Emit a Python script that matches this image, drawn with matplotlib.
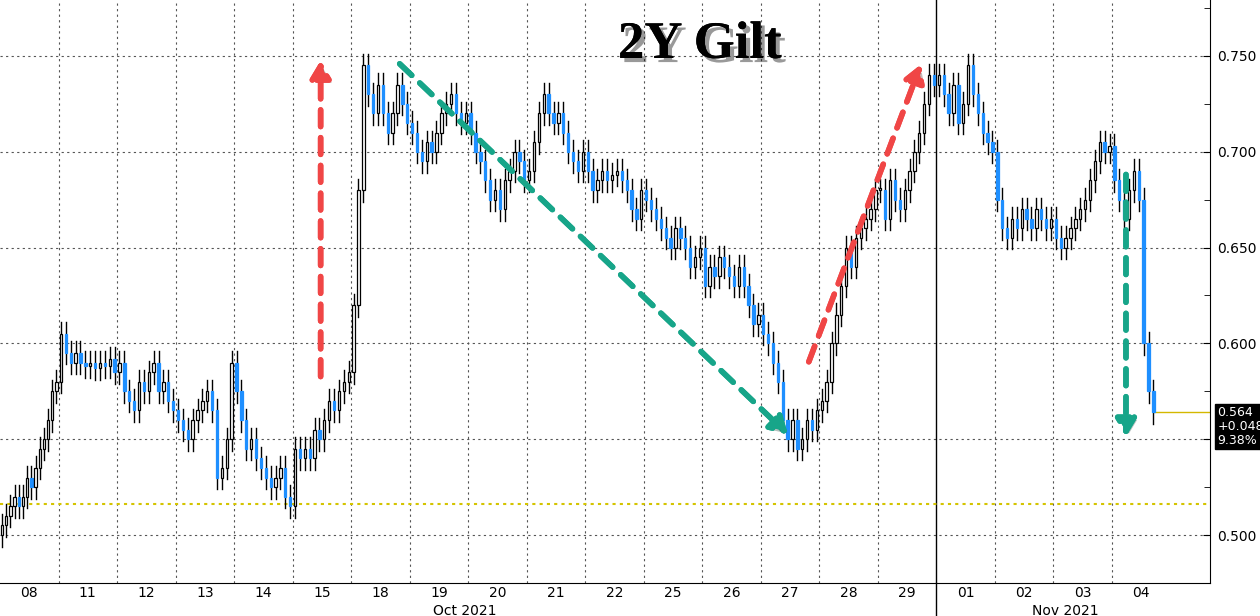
import numpy as np
import matplotlib.pyplot as plt
from matplotlib.patches import FancyArrowPatch
import matplotlib.patheffects as pe

# day labels and 30-min closes
day_labels = ['08', '11', '12', '13', '14', '15', '18', '19', '20', '21',
              '22', '25', '26', '27', '28', '29', '01', '02', '03', '04']
closes = [
    [0.505, 0.510, 0.515, 0.520, 0.515, 0.520, 0.530, 0.525, 0.535, 0.545, 0.550, 0.560, 0.575, 0.580],
    [0.605, 0.595, 0.590, 0.595, 0.590, 0.588, 0.590, 0.587, 0.590, 0.588, 0.592, 0.585],
    [0.590, 0.575, 0.570, 0.565, 0.580, 0.575, 0.585, 0.590, 0.575, 0.580, 0.570, 0.565],
    [0.560, 0.555, 0.550, 0.560, 0.565, 0.570, 0.575, 0.565, 0.530, 0.535, 0.550, 0.590],
    [0.575, 0.560, 0.545, 0.550, 0.540, 0.535, 0.530, 0.525, 0.530, 0.535, 0.520, 0.515],
    [0.545, 0.540, 0.545, 0.540, 0.555, 0.550, 0.560, 0.570, 0.565, 0.575, 0.580, 0.585],
    [0.620, 0.680, 0.745, 0.730, 0.720, 0.735, 0.720, 0.710, 0.720, 0.735, 0.725, 0.715],
    [0.710, 0.700, 0.695, 0.705, 0.700, 0.710, 0.720, 0.725, 0.730, 0.720, 0.715, 0.720],
    [0.710, 0.700, 0.695, 0.685, 0.675, 0.680, 0.670, 0.685, 0.690, 0.700, 0.695, 0.685],
    [0.690, 0.705, 0.720, 0.730, 0.720, 0.715, 0.720, 0.710, 0.700, 0.695, 0.690, 0.700],
    [0.690, 0.680, 0.685, 0.690, 0.685, 0.688, 0.690, 0.685, 0.680, 0.670, 0.665, 0.680],
    [0.675, 0.670, 0.665, 0.660, 0.655, 0.650, 0.660, 0.655, 0.650, 0.640, 0.645, 0.650],
    [0.630, 0.640, 0.635, 0.645, 0.640, 0.635, 0.630, 0.640, 0.630, 0.620, 0.610, 0.615],
    [0.605, 0.600, 0.590, 0.580, 0.560, 0.550, 0.560, 0.545, 0.550, 0.560, 0.555, 0.565],
    [0.570, 0.580, 0.600, 0.615, 0.630, 0.650, 0.640, 0.655, 0.660, 0.665, 0.670, 0.680],
    [0.680, 0.665, 0.685, 0.675, 0.670, 0.680, 0.690, 0.700, 0.710, 0.725, 0.740, 0.735],
    [0.740, 0.730, 0.720, 0.735, 0.715, 0.725, 0.745, 0.730, 0.720, 0.710, 0.705, 0.700],
    [0.675, 0.660, 0.655, 0.665, 0.660, 0.670, 0.665, 0.660, 0.670, 0.665, 0.660, 0.665],
    [0.655, 0.650, 0.655, 0.660, 0.665, 0.670, 0.675, 0.685, 0.695, 0.705, 0.700, 0.703],
    [0.685, 0.675, 0.665, 0.680, 0.690, 0.675, 0.600, 0.575, 0.564],
]
last_price = 0.564
change_txt = '+0.048'
pct_txt = '9.38%'
ref_level = 0.516

BLUE = '#1e8fff'
PX = 58.5  # pixels per day in the reference


def px_x(p):
    return (p - 0.5) / PX


def px_y(p):
    return 0.75 - (p - 56) / 1920


fig = plt.figure(figsize=(12.6, 6.16), dpi=100)
ax = fig.add_axes([0, 33 / 616, 1210 / 1260, 583 / 616])

prev = None
for d, day in enumerate(closes):
    step = 1.0 / max(len(day), 12)
    for k, c in enumerate(day):
        x = d + (k + 0.5) * step
        o = prev if prev is not None else c - 0.005
        lo, hi = min(o, c), max(o, c)
        up = c >= o
        ax.plot([x, x], [lo - 0.006, hi + 0.006], color='black', lw=1, zorder=2)
        if up:
            ax.bar(x, max(hi - lo, 0.001), bottom=lo, width=0.04, color='white',
                   edgecolor='black', lw=0.9, zorder=3)
        else:
            ax.bar(x, max(hi - lo, 0.001), bottom=lo, width=0.04, color=BLUE,
                   edgecolor=BLUE, lw=0.9, zorder=3)
        prev = c
last_x = x

ax.set_xlim(0, px_x(1210))
ax.set_ylim(px_y(583), px_y(0))

# grid
for d in range(1, len(day_labels)):
    if d == 16:
        continue
    ax.axvline(d, color='#555555', ls=(0, (2, 3)), lw=0.8, zorder=0)
for yv in np.arange(0.50, 0.76, 0.05):
    ax.axhline(yv, color='#555555', ls=(0, (2, 3)), lw=0.8, zorder=0)
ax.axvline(16, color='black', lw=1, zorder=0)
ax.plot([16, 16], [-0.06, 0], transform=ax.get_xaxis_transform(), color='black',
        lw=1, clip_on=False)

ax.axhline(ref_level, color='#d4c400', ls=(0, (1.5, 2)), lw=1.5, zorder=1)
ax.plot([last_x, ax.get_xlim()[1]], [last_price, last_price], color='#d4b800', lw=1, zorder=1)

# axes
ax.set_xticks(np.arange(len(day_labels)) + 0.5)
ax.set_xticklabels(day_labels, fontsize=10)
ax.tick_params(axis='x', length=0, pad=2)
ax.yaxis.tick_right()
ax.set_yticks(np.arange(0.50, 0.76, 0.05))
ax.set_yticks(np.arange(0.475, 0.78, 0.025), minor=True)
ax.set_yticklabels(['%.3f' % v for v in np.arange(0.50, 0.76, 0.05)], fontsize=10)
ax.tick_params(axis='y', direction='in', length=5, pad=5)
ax.tick_params(axis='y', which='minor', direction='in', length=4)
for s in ['top', 'left']:
    ax.spines[s].set_visible(False)

fig.text(465 / 1260, -2 / 616, 'Oct 2021', fontsize=10, ha='center', va='bottom')
fig.text(1065 / 1260, -2 / 616, 'Nov 2021', fontsize=10, ha='center', va='bottom')

# price box
ax.text(1.006, (last_price - px_y(583)) / (px_y(0) - px_y(583)) + 0.012,
        f'{last_price:.3f}\n{change_txt}\n{pct_txt}', transform=ax.transAxes,
        ha='left', va='top', color='white', fontsize=9, linespacing=1.1,
        bbox=dict(boxstyle='square,pad=0.15', fc='black', ec='black'), clip_on=False)

# title
ax.text(px_x(700), px_y(45), '2Y Gilt', fontsize=38, fontweight='bold', family='Liberation Serif',
        ha='center', va='center', zorder=6,
        path_effects=[pe.withSimplePatchShadow(offset=(3, -3), alpha=0.4), pe.Normal()])

# arrows
arrows = [((321, 380), (321, 58), '#f04646'),
          ((808, 365), (922, 62), '#f04646'),
          ((398, 62), (790, 437), '#17a589'),
          ((1126, 172), (1126, 440), '#17a589')]
for (x0, y0), (x1, y1), col in arrows:
    a = FancyArrowPatch((px_x(x0), px_y(y0)), (px_x(x1), px_y(y1)),
                        arrowstyle='-|>,head_length=10,head_width=6', color=col,
                        lw=4, linestyle=(0, (3, 2)), zorder=5,
                        path_effects=[pe.withSimplePatchShadow(offset=(2, -2), alpha=0.3), pe.Normal()])
    ax.add_patch(a)

fig.savefig('out.png', dpi=100)
